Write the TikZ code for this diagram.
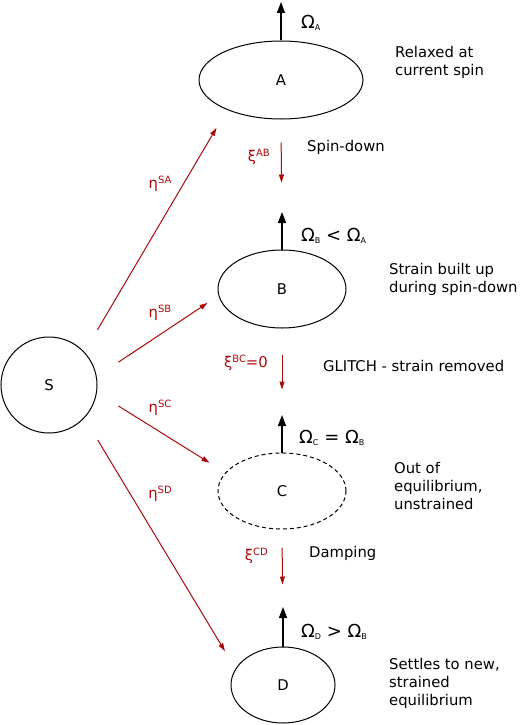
\documentclass[tikz,border=0pt]{standalone}
\usepackage{fontspec}
\setmainfont{DejaVu Sans}
\usetikzlibrary{arrows.meta,shapes.geometric}
\definecolor{arrred}{RGB}{170,10,10}
\newcommand\supx[1]{\raisebox{5.5pt}{\fontsize{10}{10}\selectfont #1}}
\newcommand\subx[1]{\raisebox{-2.5pt}{\fontsize{8}{8}\selectfont #1}}
\begin{document}
\begin{tikzpicture}[x=1pt,y=-1pt,
  font=\fontsize{14.8}{18}\selectfont,
  state/.style={draw, ellipse, line width=1pt, inner sep=0pt},
  omega/.style={draw, line width=1.3pt, -{Triangle[length=11pt,width=8pt]}},
  rate/.style={draw=arrred, line width=1pt, -{Triangle[length=8pt,width=5pt]}},
  redlbl/.style={text=arrred, inner sep=0pt},
  lbl/.style={inner sep=0pt, anchor=west},
  omlbl/.style={inner sep=0pt, anchor=west, font=\fontsize{18}{20}\selectfont},
  desc/.style={inner sep=0pt, anchor=west, align=left}]
\useasboundingbox (0,0) rectangle (520,725);

% states
\node[state, circle, minimum size=96pt] (S) at (49,385) {S};
\node[state, minimum width=164pt, minimum height=78pt] (A) at (281,80) {A};
\node[state, minimum width=128pt, minimum height=78pt] (B) at (282,289) {B};
\node[state, minimum width=128pt, minimum height=76pt, dash pattern=on 4pt off 3pt] (C) at (282,491) {C};
\node[state, minimum width=104pt, minimum height=76pt] (D) at (283,685) {D};

% spin arrows
\coordinate (oA) at (281,2);
\coordinate (oB) at (282,212);
\coordinate (oC) at (282,415);
\coordinate (oD) at (283,607);
\draw[omega] (A.north) -- (oA);
\draw[omega] (B.north) -- (oB);
\draw[omega] (C.north) -- (oC);
\draw[omega] (D.north) -- (oD);
\node[omlbl] (lA) at (301,23) {Ω\subx{A}};
\node[omlbl] (lB) at (301,236) {Ω\subx{B} < Ω\subx{A}};
\node[omlbl] (lC) at (299,438) {Ω\subx{C} = Ω\subx{B}};
\node[omlbl] (lD) at (301,632) {Ω\subx{D} > Ω\subx{B}};

% transitions between states
\draw[rate, shorten <=23pt, shorten >=67pt] (A.south) -- (B.north);
\draw[rate, shorten <=26pt, shorten >=63pt] (B.south) -- (C.north);
\draw[rate, shorten <=18pt, shorten >=62pt] (C.south) -- (D.north);
\node[redlbl, anchor=east] (xAB) at (270,157) {ξ\supx{AB}};
\node[redlbl, anchor=east] (xBC) at (268,363) {ξ\supx{BC}=0};
\node[redlbl, anchor=east] (xCD) at (268,556) {ξ\supx{CD}};

% transitions from S
\draw[rate, shorten <=25.6pt, shorten >=20.9pt] (S.43.5) -- (A.209.9);
\draw[rate, shorten <=26.1pt, shorten >=13.1pt] (S.10.4) -- (B.186.2);
\draw[rate, shorten <=25.4pt, shorten >=18.6pt] (S.-9.1) -- (C.162.1);
\draw[rate, shorten <=25.6pt, shorten >=20.4pt] (S.-43.6) -- (D.161.9);
\node[redlbl] (eSA) at (160,184) {η\supx{SA}};
\node[redlbl] (eSB) at (160,313) {η\supx{SB}};
\node[redlbl] (eSC) at (160,408) {η\supx{SC}};
\node[redlbl] (eSD) at (160,494) {η\supx{SD}};

% descriptions
\node[lbl] (tAB) at (307,147) {Spin-down};
\node[lbl] (tBC) at (323,366) {GLITCH - strain removed};
\node[lbl] (tCD) at (309,553) {Damping};
\node[desc] (dA) at (395,62) {Relaxed at\\current spin};
\node[desc] (dB) at (389,279) {Strain built up\\during spin-down};
\node[desc] (dC) at (394,486) {Out of\\equilibrium,\\unstrained};
\node[desc] (dD) at (389,683) {Settles to new,\\strained\\equilibrium};
\end{tikzpicture}
\end{document}
